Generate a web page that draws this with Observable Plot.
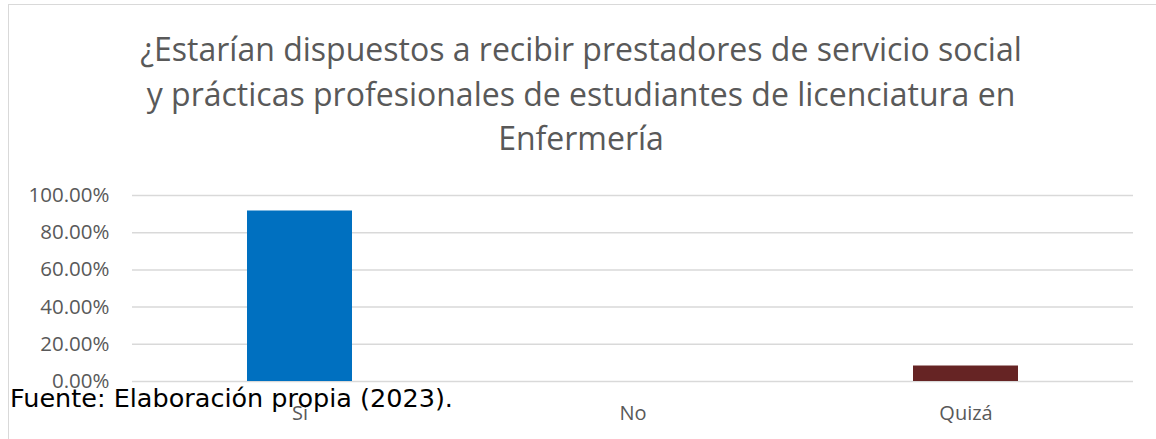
<!DOCTYPE html>
<html>
<head>
<meta charset="utf-8">
<script src="https://cdn.jsdelivr.net/npm/d3@7"></script>
<script src="https://cdn.jsdelivr.net/npm/@observablehq/plot@0.6"></script>
<style>
  html, body { margin: 0; padding: 0; background: #fff; }
  #wrap { position: relative; width: 1156px; height: 439px; overflow: hidden; background: #fff; }
  #frame { position: absolute; left: 8px; top: 4px; width: 1160px; height: 460px; border: 1.5px solid #d9d9d9; box-sizing: border-box; }
  #title { position: absolute; left: 0; width: 1162px; top: 27px; text-align: center; font-family: "Open Sans", sans-serif; font-size: 32px; line-height: 44.5px; color: #595959; }
  #chart { position: absolute; left: 0; top: 170px; }
  #footer { position: absolute; left: 10px; top: 383px; font-family: "DejaVu Sans", sans-serif; font-size: 25.5px; line-height: normal; color: #000; white-space: nowrap; }
</style>
</head>
<body>
<div id="wrap">
  <div id="frame"></div>
  <div id="title">¿Estarían dispuestos a recibir prestadores de servicio social<br>y prácticas profesionales de estudiantes de licenciatura en<br>Enfermería</div>
  <div id="chart"></div>
  <div id="footer">Fuente: Elaboración propia (2023).</div>
</div>
<script>
const categories = ["Sí", "No", "Quizá"];
const values = [0.9167, 0, 0.0833];
const colors = ["#0070C0", "#0070C0", "#662424"];
const yTicks = [0, 0.2, 0.4, 0.6, 0.8, 1.0];

const data = categories.map((c, i) => ({category: c, value: values[i], color: colors[i]}));

const chart = Plot.plot({
  width: 1156,
  height: 269,
  marginLeft: 132,
  marginRight: 23,
  marginTop: 25,
  marginBottom: 58,
  style: {fontFamily: "Open Sans, sans-serif", fontSize: "20px", color: "#595959", background: "transparent"},
  x: {domain: categories, paddingInner: 0.685, paddingOuter: 0.3425, label: null},
  y: {domain: [0, 1], label: null},
  marks: [
    Plot.gridY(yTicks, {stroke: "#d9d9d9", strokeOpacity: 1, strokeWidth: 1.5}),
    Plot.barY(data, {x: "category", y: "value", fill: "color"}),
    Plot.axisY(yTicks, {tickFormat: d3.format(".2%"), tickSize: 0, tickPadding: 23, label: null, fill: "#595959", fontSize: 20.5}),
    Plot.axisX({tickSize: 0, tickPadding: 24, label: null, fill: "#595959", fontSize: 20})
  ]
});
document.getElementById("chart").appendChild(chart);
</script>
</body>
</html>
